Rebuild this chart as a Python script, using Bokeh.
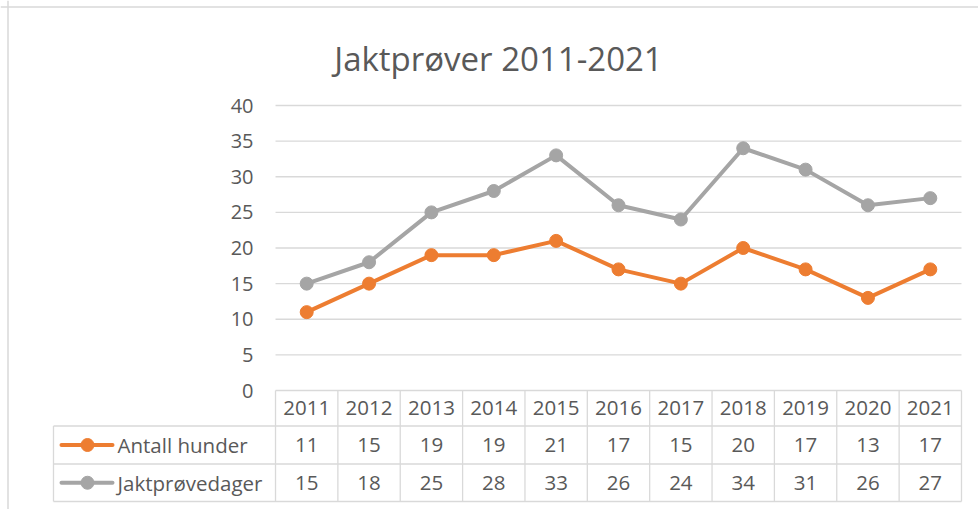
from bokeh.plotting import figure
from bokeh.models import Range1d, Span
from bokeh.core.properties import value
from bokeh.embed import file_html
from bokeh.resources import INLINE

# ---- data ----
years = ["2011", "2012", "2013", "2014", "2015", "2016", "2017", "2018", "2019", "2020", "2021"]
antall_hunder = [11, 15, 19, 19, 21, 17, 15, 20, 17, 13, 17]
jaktprovedager = [15, 18, 25, 28, 33, 26, 24, 34, 31, 26, 27]
series_names = ["Antall hunder", "Jaktprøvedager"]
y_ticks = [0, 5, 10, 15, 20, 25, 30, 35, 40]
title_text = "Jaktprøver 2011-2021"

# ---- layout (canvas pixels) ----
W, H = 978, 509
X0, DX = 306.2, 62.36   # canvas x of first category, width of a category
Y0, DY = 390.0, 7.125   # canvas y of value 0, pixels per unit


def cx(px):
    return (px - X0) / DX


def cy(py):
    return (Y0 - py) / DY


FONT = value("Open Sans")
TXT = "#595959"
GRID = "#d9d9d9"
C_ORANGE = "#ED7D31"
C_GRAY = "#A5A5A5"

p = figure(width=W, height=H, x_range=Range1d(cx(0), cx(W)), y_range=Range1d(cy(H), cy(0)),
           output_backend="svg", toolbar_location=None, title=None,
           x_axis_type=None, y_axis_type=None, min_border=0)
p.outline_line_color = None
p.background_fill_color = "white"
p.border_fill_color = "white"

n = len(years)
idx = list(range(n))
left_edge = -0.5
right_edge = n - 0.5
table_left = cx(53)
row_bounds = [0, cy(425.5), cy(463.5), cy(501)]
row_mid = [(row_bounds[i] + row_bounds[i + 1]) / 2 for i in range(3)]

# outer chart border (left and top visible)
p.add_layout(Span(location=cx(7.5), dimension="height", line_color=GRID, line_width=1.5))
p.add_layout(Span(location=cy(6.5), dimension="width", line_color=GRID, line_width=1.5))

# gridlines
p.segment(x0=[left_edge] * len(y_ticks), x1=[right_edge] * len(y_ticks),
          y0=y_ticks, y1=y_ticks, line_color=GRID, line_width=1.3)

# y tick labels
p.text(x=[cx(253)] * len(y_ticks), y=y_ticks, text=[str(t) for t in y_ticks],
       text_font=FONT, text_font_size="20px", text_color=TXT,
       text_align="right", text_baseline="middle")

# data table grid
vx = [i - 0.5 for i in range(n + 1)]
p.segment(x0=vx, x1=vx, y0=[0] * len(vx), y1=[row_bounds[3]] * len(vx),
          line_color=GRID, line_width=1.3)
p.segment(x0=[table_left], x1=[table_left], y0=[row_bounds[1]], y1=[row_bounds[3]],
          line_color=GRID, line_width=1.3)
p.segment(x0=[table_left] * 3, x1=[right_edge] * 3, y0=row_bounds[1:], y1=row_bounds[1:],
          line_color=GRID, line_width=1.3)

# table text
p.text(x=idx, y=[row_mid[0]] * n, text=years, text_font=FONT, text_font_size="20.5px",
       text_color=TXT, text_align="center", text_baseline="middle")
p.text(x=idx, y=[row_mid[1]] * n, text=[str(v) for v in antall_hunder], text_font=FONT,
       text_font_size="20.5px", text_color=TXT, text_align="center", text_baseline="middle")
p.text(x=idx, y=[row_mid[2]] * n, text=[str(v) for v in jaktprovedager], text_font=FONT,
       text_font_size="20.5px", text_color=TXT, text_align="center", text_baseline="middle")

# legend keys inside table
for name, col, ym in zip(series_names, [C_ORANGE, C_GRAY], row_mid[1:]):
    p.segment(x0=[cx(61)], x1=[cx(112)], y0=[ym], y1=[ym], line_color=col, line_width=4,
              line_cap="round")
    p.scatter(x=[cx(87)], y=[ym], size=13, fill_color=col, line_color=col)
    p.text(x=[cx(117)], y=[ym], text=[name], text_font=FONT, text_font_size="20.5px",
           text_color=TXT, text_align="left", text_baseline="middle")

# series
for vals, col in [(jaktprovedager, C_GRAY), (antall_hunder, C_ORANGE)]:
    p.line(x=idx, y=vals, line_color=col, line_width=4, line_join="round", line_cap="round")
    p.scatter(x=idx, y=vals, size=13, fill_color=col, line_color=col)

# title
p.text(x=[cx(498)], y=[cy(58)], text=[title_text], text_font=FONT, text_font_size="33px",
       text_color=TXT, text_align="center", text_baseline="alphabetic")

open("out.html", "w").write(file_html(p, INLINE))
